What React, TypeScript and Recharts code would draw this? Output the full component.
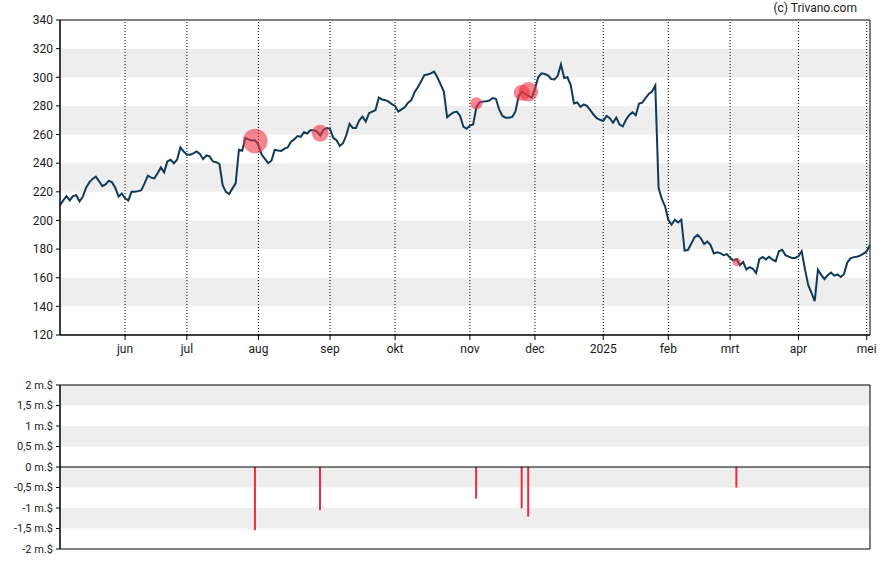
import React from 'react';
import {
  ComposedChart,
  Line,
  Scatter,
  Bar,
  XAxis,
  YAxis,
  ReferenceArea,
  ReferenceLine,
} from 'recharts';

// Closing prices per trading day (May 3, 2024 .. May 2, 2025)
const prices: number[] = [
  210.6, 214, 217, 214, 217, 217.6, 213.4, 216.5, 222.8, 226.6,
  229, 230.6, 227.5, 224, 225.2, 227.8, 226.6, 222.8, 216.7, 218.8,
  215.5, 214, 220, 220, 220.5, 221.2, 225.9, 231.3, 229.9, 229.4,
  233, 237, 233.6, 241.2, 242.4, 240, 242.4, 251, 248.2, 245.9,
  245.9, 246.8, 248.2, 246.4, 242.8, 245.4, 244.7, 241.2, 240.7, 239.5,
  224.7, 220, 218.4, 222.4, 225.9, 249.4, 248.7, 257.6, 256.5, 255.8,
  256, 252.5, 246, 243, 240, 241.7, 249.3, 248.9, 248.6, 250.2,
  251, 255, 256.6, 258.9, 258.4, 261.6, 260.7, 263, 263, 262,
  259.3, 263.4, 264.6, 264, 257.7, 256, 252, 254, 259.5, 267.5,
  264.6, 264.6, 270, 272.5, 269.1, 274.9, 276, 277.1, 285.8, 284.5,
  284, 283, 281.3, 280, 276, 277.6, 279, 282.2, 284, 289.5,
  293, 297, 301.5, 302, 302.7, 304, 300, 295, 290, 272,
  274, 275.5, 276, 273, 265.5, 264, 266.3, 267, 279, 282.5,
  283, 283.3, 283.8, 285.5, 285, 277.5, 273, 271.8, 271.7, 272.3,
  276, 287, 290, 288.5, 287, 285.8, 292, 300, 302.8, 302.3,
  301.3, 298.8, 298.5, 301, 309, 299.5, 300, 294.5, 281.7, 282.4,
  279.4, 281, 280, 277, 274, 271.4, 270.3, 269.5, 273, 271.4,
  268.2, 271.8, 267, 265.7, 270.3, 273.7, 275.5, 273.5, 281.7, 282.3,
  285.5, 288.4, 290, 294.3, 222.8, 215, 209.9, 200.5, 197, 200.5,
  198.6, 200.5, 179, 179.3, 183.5, 188, 189.9, 187.5, 183.5, 185.2,
  182.8, 177, 177.8, 177.2, 175.7, 176.5, 174, 172, 173, 168.8,
  171, 165.8, 167.4, 166.2, 163.3, 173, 174.5, 172.8, 174.6, 172.6,
  171.5, 178.5, 179.5, 175.8, 174.7, 173.8, 173.8, 175, 178.5, 166,
  155, 149.5, 143.6, 165.6, 162, 159, 161.8, 163.6, 161.5, 162.3,
  160.5, 162.5, 170.5, 173.5, 174.4, 174.6, 175.5, 176.8, 178.5, 183,
];

// Insider transactions
const tradeDays: number[] = [60, 80, 128, 142, 144, 208];
const tradePrices: number[] = [255.5, 260.9, 281.8, 289.2, 289.9, 170.9];
const tradeAmounts: number[] = [-1.54, -1.05, -0.77, -1.01, -1.21, -0.5];

// X axis month ticks (trading-day index)
const monthTicks: number[] = [20, 39, 61, 83, 103, 126, 146, 167, 187, 206, 227, 248];
const monthLabels: string[] = ['jun', 'jul', 'aug', 'sep', 'okt', 'nov', 'dec', '2025', 'feb', 'mrt', 'apr', 'mei'];

const priceTicks: number[] = [120, 140, 160, 180, 200, 220, 240, 260, 280, 300, 320, 340];
const priceBands: [number, number][] = [[300, 320], [260, 280], [220, 240], [180, 200], [140, 160]];

const volTicks: number[] = [-2, -1.5, -1, -0.5, 0, 0.5, 1, 1.5, 2];
const volBands: [number, number][] = [[1.5, 2], [0.5, 1], [-0.5, 0], [-1.5, -1]];

const lastDay = prices.length - 1;

const priceData = prices.map((p, i) => ({ d: i, p }));
const tradeData = tradeDays.map((d, i) => ({ d, p: tradePrices[i], amt: tradeAmounts[i] }));

const FONT = 'Roboto, "Liberation Sans", Arial, sans-serif';
const TXT = '#1a1a1a';

const monthFmt = (v: number) => {
  const i = monthTicks.indexOf(v);
  return i >= 0 ? monthLabels[i] : '';
};
const volFmt = (v: number) => `${String(v).replace('.', ',')} m.$`;

const TradeDot = (props: any) => {
  const { cx, cy, payload } = props;
  if (cx == null || cy == null) return null;
  return <circle cx={cx} cy={cy} r={Math.abs(payload.amt) * 8} fill="#ee3344" fillOpacity={0.6} stroke="none" />;
};

export default function App() {
  return (
    <div style={{ position: 'absolute', left: 0, top: 0, width: 888, height: 565, background: '#fff', fontFamily: FONT }}>
      <div style={{ position: 'absolute', right: 31, top: 1, fontSize: 12, color: TXT, fontFamily: FONT }}>
        (c) Trivano.com
      </div>
      <ComposedChart
        width={888}
        height={360}
        data={priceData}
        margin={{ top: 20, right: 18, bottom: 0, left: 0 }}
      >
        <XAxis
          dataKey="d"
          type="number"
          domain={[0, lastDay]}
          ticks={monthTicks}
          interval={0}
          tickFormatter={monthFmt}
          tick={{ fill: TXT, fontSize: 12, fontFamily: FONT }}
          tickSize={5}
          tickMargin={4}
          axisLine={{ stroke: '#000' }}
          tickLine={{ stroke: '#000' }}
          height={25}
          allowDataOverflow
        />
        <YAxis
          type="number"
          domain={[120, 340]}
          ticks={priceTicks}
          interval={0}
          tick={{ fill: TXT, fontSize: 12, fontFamily: FONT }}
          tickSize={4}
          tickMargin={3}
          axisLine={{ stroke: '#000' }}
          tickLine={{ stroke: '#000' }}
          width={60}
          allowDataOverflow
        />
        {priceBands.map(([a, b]) => (
          <ReferenceArea key={`pb${a}`} y1={a} y2={b} x1={0} x2={lastDay} fill="#eeeeee" fillOpacity={1} stroke="none" />
        ))}
        {monthTicks.map((t) => (
          <ReferenceLine key={`ml${t}`} x={t} stroke="#000" strokeDasharray="1 2" strokeWidth={1} />
        ))}
        <ReferenceArea x1={0} x2={lastDay} y1={120} y2={340} fill="none" stroke="#000" strokeWidth={1} />
        <Line
          dataKey="p"
          type="linear"
          stroke="#0e3a5c"
          strokeWidth={2}
          dot={false}
          activeDot={false}
          isAnimationActive={false}
        />
        <Scatter data={tradeData} dataKey="p" shape={TradeDot} isAnimationActive={false} />
      </ComposedChart>
      <ComposedChart
        width={888}
        height={205}
        data={tradeData}
        margin={{ top: 25, right: 18, bottom: 16, left: 0 }}
      >
        <XAxis dataKey="d" type="number" domain={[0, lastDay]} hide allowDataOverflow />
        <YAxis
          type="number"
          domain={[-2, 2]}
          ticks={volTicks}
          interval={0}
          tickFormatter={volFmt}
          tick={{ fill: TXT, fontSize: 11, fontFamily: FONT }}
          tickSize={4}
          tickMargin={3}
          axisLine={{ stroke: '#000' }}
          tickLine={{ stroke: '#000' }}
          width={60}
          allowDataOverflow
        />
        {volBands.map(([a, b]) => (
          <ReferenceArea key={`vb${a}`} y1={a} y2={b} x1={0} x2={lastDay} fill="#eeeeee" fillOpacity={1} stroke="none" />
        ))}
        <ReferenceArea x1={0} x2={lastDay} y1={-2} y2={2} fill="none" stroke="#000" strokeWidth={1} />
        <ReferenceLine y={0} stroke="#000" strokeWidth={1} />
        <Bar dataKey="amt" fill="#ee2a3c" barSize={2} isAnimationActive={false} />
      </ComposedChart>
    </div>
  );
}
